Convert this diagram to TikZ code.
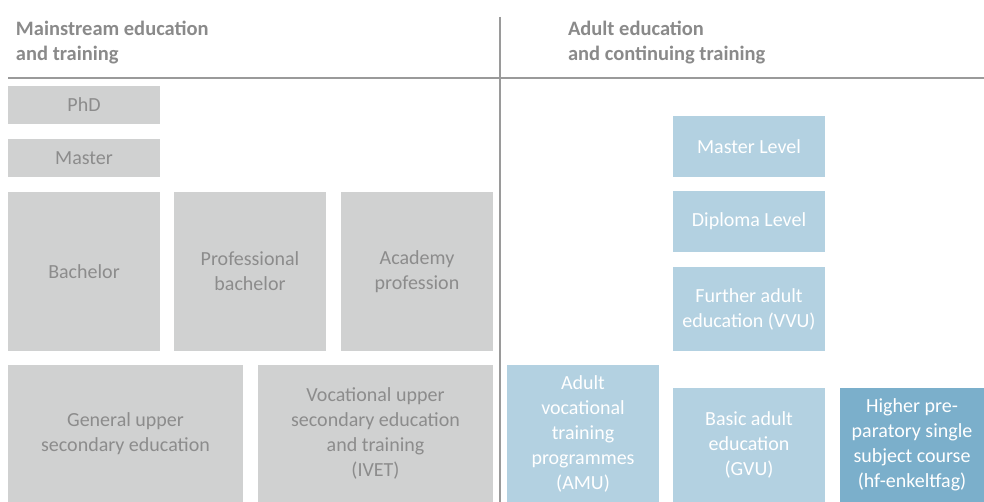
\documentclass[tikz,border=0pt]{standalone}
\usepackage{fontspec}
\setmainfont{Carlito}
\usetikzlibrary{positioning}
\definecolor{boxgray}{HTML}{D0D1D1}
\definecolor{txtgray}{HTML}{8C8C8C}
\definecolor{headgray}{HTML}{8A8A8A}
\definecolor{linegray}{HTML}{9A9A9A}
\definecolor{adultblue}{HTML}{B3D1E1}
\definecolor{hfblue}{HTML}{7BAFCB}

\begin{document}
\begin{tikzpicture}[x=1pt, y=-1pt, node distance=15pt,
  every node/.style={outer sep=0pt, inner sep=2pt, align=center, font=\fontsize{20}{25}\selectfont},
  mainbox/.style={fill=boxgray, text=txtgray},
  adultbox/.style={fill=adultblue, text=white},
  hfbox/.style={fill=hfblue, text=white},
  heading/.style={anchor=base west, align=left, inner sep=0pt, text=headgray, font=\fontsize{20.5}{25}\selectfont\bfseries}]
  \useasboundingbox (0,0) rectangle (984,502);

  % Ueberschriften und Trennlinien
  \node[heading] (mainhead) at (16,61) {Mainstream education\\and training};
  \node[heading] (adulthead) at (568,61) {Adult education\\and continuing training};
  \draw[linegray, line width=1.2pt] (8,78) -- (984,78);
  \draw[linegray, line width=1.2pt] (500,17) -- (500,502);

  % Mainstream education (links)
  \node[mainbox, minimum width=152pt, minimum height=38pt, anchor=north west] (phd) at (8,86) {PhD};
  \node[mainbox, minimum width=152pt, minimum height=38pt, below=15pt of phd] (master) {Master};
  \node[mainbox, minimum width=152pt, minimum height=159pt, below=15pt of master] (bachelor) {Bachelor};
  \node[mainbox, minimum width=152pt, minimum height=159pt, right=14pt of bachelor] (profbachelor) {Professional\\bachelor};
  \node[mainbox, minimum width=152pt, minimum height=159pt, right=15pt of profbachelor] (academy) {Academy\\profession};
  \node[mainbox, minimum width=235pt, minimum height=137pt, below=14pt of bachelor.south west, anchor=north west] (upper) {General upper\\secondary education};
  \node[mainbox, minimum width=235pt, minimum height=137pt, right=15pt of upper] (ivet) {Vocational upper\\secondary education\\and training\\(IVET)};

  % Adult education (rechts)
  \node[adultbox, minimum width=152pt, minimum height=137pt, right=14pt of ivet] (amu) {Adult\\vocational\\training\\programmes\\(AMU)};
  \node[adultbox, minimum width=152pt, minimum height=114pt, right=14pt of amu.south east, anchor=south west] (gvu) {Basic adult\\education\\(GVU)};
  \node[hfbox, minimum width=144pt, minimum height=114pt, right=15pt of gvu] (hf) {Higher pre-\\paratory single\\subject course\\(hf-enkeltfag)};
  \node[adultbox, minimum width=152pt, minimum height=84pt, above=37pt of gvu] (vvu) {Further adult\\education (VVU)};
  \node[adultbox, minimum width=152pt, minimum height=61pt, above=15pt of vvu] (diploma) {Diploma Level};
  \node[adultbox, minimum width=152pt, minimum height=61pt, above=14pt of diploma] (masterlevel) {Master Level};
\end{tikzpicture}
\end{document}
